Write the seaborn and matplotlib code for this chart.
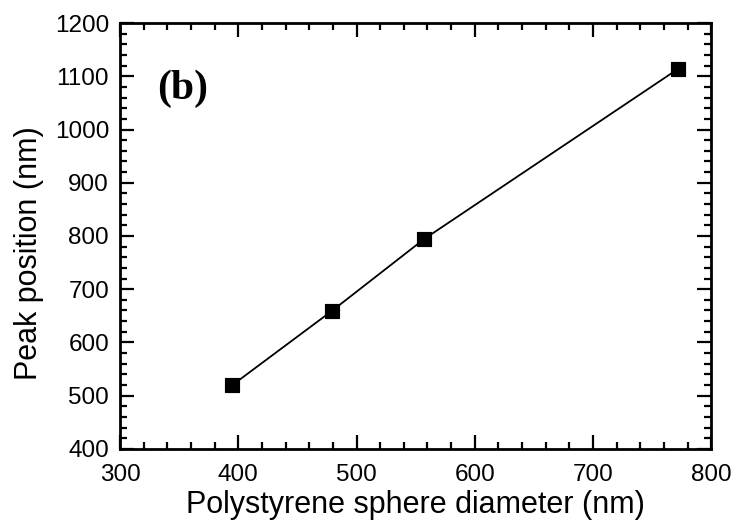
import pandas as pd
import matplotlib
matplotlib.use('Agg')
import matplotlib.pyplot as plt
from matplotlib.ticker import MultipleLocator
import seaborn as sns

# Data
diameter = [395, 479, 557, 772]
peak = [520, 659, 794, 1114]

df = pd.DataFrame({'diameter': diameter, 'peak': peak})

sns.set_theme(style='ticks')
plt.rcParams['font.family'] = ['Liberation Sans', 'DejaVu Sans']
plt.rcParams['text.color'] = 'black'
plt.rcParams['axes.labelcolor'] = 'black'

fig = plt.figure(figsize=(7.37, 5.25), dpi=100)
ax = fig.add_axes([0.163, 0.145, 0.802, 0.811])

sns.lineplot(data=df, x='diameter', y='peak', color='black', linewidth=1.3, ax=ax)
sns.scatterplot(data=df, x='diameter', y='peak', marker='s', s=110, color='black',
                edgecolor='black', ax=ax, zorder=3)

ax.set_xlim(300, 800)
ax.set_ylim(400, 1200)
ax.xaxis.set_major_locator(MultipleLocator(100))
ax.xaxis.set_minor_locator(MultipleLocator(20))
ax.yaxis.set_major_locator(MultipleLocator(100))
ax.yaxis.set_minor_locator(MultipleLocator(20))
ax.tick_params(which='both', direction='in', top=True, right=True, labelsize=17.5,
               width=1.6, color='black', labelcolor='black')
ax.tick_params(which='major', length=10)
ax.tick_params(which='minor', length=5)
ax.tick_params(axis='x', which='major', pad=11)
ax.tick_params(axis='y', which='major', pad=8)
for sp in ax.spines.values():
    sp.set_linewidth(2)
    sp.set_color('black')

ax.set_xlabel('Polystyrene sphere diameter (nm)', fontsize=22, labelpad=3)
ax.set_ylabel('Peak position (nm)', fontsize=22)
ax.yaxis.set_label_coords(-0.128, 0.46)
ax.text(0.063, 0.80, '(b)', transform=ax.transAxes, fontsize=30, fontweight='bold',
        va='bottom', family=['Liberation Serif', 'DejaVu Serif'])

plt.savefig('out.png', dpi=100)
